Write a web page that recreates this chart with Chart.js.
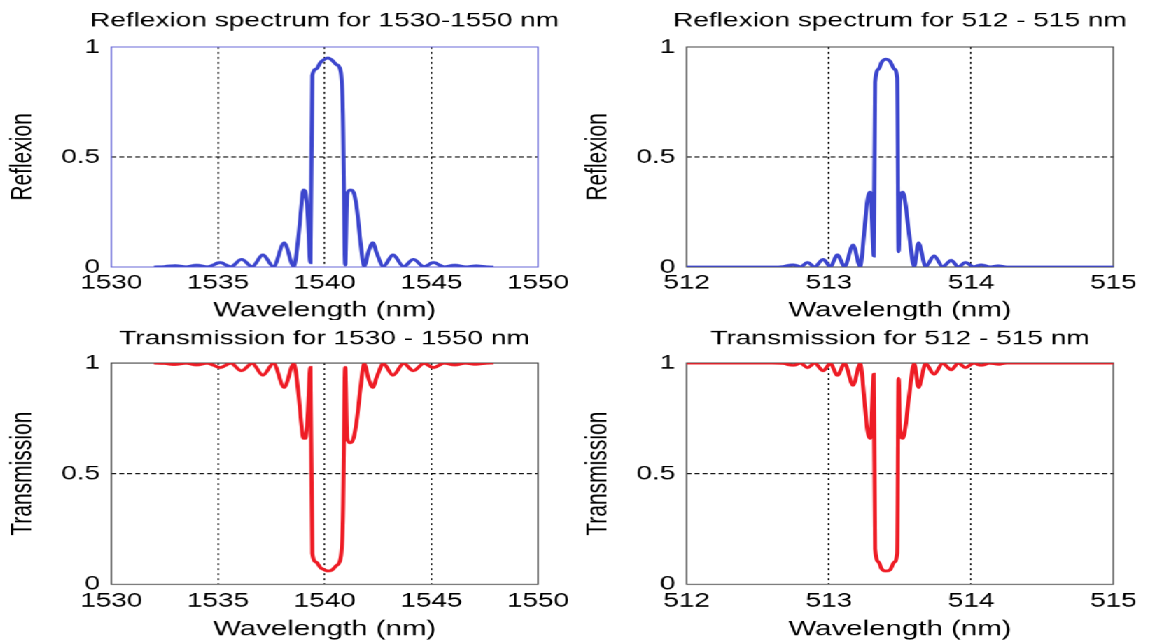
<!DOCTYPE html>
<html>
<head>
<meta charset="utf-8">
<script src="https://cdn.jsdelivr.net/npm/chart.js@4.4.0/dist/chart.umd.min.js"></script>
<style>
  html, body { margin: 0; padding: 0; background: #fff; overflow: hidden; }
  /* the original figure is stretched sideways, so draw narrow and widen it */
  #stage { position: absolute; left: 0; top: 0; width: 820.7px; height: 641px; transform: scaleX(1.4); transform-origin: 0 0; }
  /* cells are wide enough that a full-width title sits centred over the plot */
  .cell { position: absolute; width: 462.8px; }
</style>
</head>
<body>
<div id="stage">
  <div class="cell" style="left:0;top:0;height:320px"><canvas id="refl-ir"></canvas></div>
  <div class="cell" style="left:411.4px;top:0;height:320px"><canvas id="refl-vis"></canvas></div>
  <div class="cell" style="left:0;top:320px;height:321px"><canvas id="trans-ir"></canvas></div>
  <div class="cell" style="left:411.4px;top:320px;height:321px"><canvas id="trans-vis"></canvas></div>
</div>
<script>
// 1530-1550 nm band
const irWavelength = [1532.0, 1532.5, 1533.0, 1533.5, 1534.0, 1534.5, 1535.1, 1535.6, 1536.1, 1536.6,
  1537.1, 1537.6, 1538.1, 1538.55, 1538.75, 1538.9, 1539.0, 1539.1, 1539.2, 1539.33,
  1539.42, 1539.6, 1539.8, 1540.0, 1540.15, 1540.35, 1540.55, 1540.75, 1540.85, 1540.96,
  1541.05, 1541.2, 1541.35, 1541.5, 1541.68, 1541.85, 1542.05, 1542.25, 1542.45, 1542.75,
  1543.2, 1543.7, 1544.15, 1544.65, 1545.1, 1545.6, 1546.1, 1546.6, 1547.1, 1547.6, 1547.9];
const irReflexion = [0, 0.002, 0.006, 0.001, 0.008, 0.001, 0.02, 0.001, 0.035, 0.002,
  0.055, 0.002, 0.11, 0.003, 0.12, 0.27, 0.35, 0.34, 0.24, 0.02,
  0.87, 0.90, 0.93, 0.945, 0.95, 0.94, 0.92, 0.89, 0.70, 0.01,
  0.33, 0.35, 0.34, 0.27, 0.11, 0.003, 0.07, 0.11, 0.06, 0.003,
  0.055, 0.002, 0.035, 0.002, 0.02, 0.001, 0.008, 0.001, 0.005, 0.001, 0];
const irTransmission = [1, 0.998, 0.994, 0.999, 0.992, 0.999, 0.98, 0.999, 0.965, 0.998,
  0.945, 0.998, 0.89, 0.997, 0.88, 0.73, 0.66, 0.66, 0.76, 0.98,
  0.14, 0.10, 0.075, 0.065, 0.06, 0.065, 0.085, 0.12, 0.29, 0.98,
  0.66, 0.64, 0.66, 0.74, 0.89, 0.997, 0.93, 0.89, 0.94, 0.997,
  0.945, 0.998, 0.965, 0.998, 0.98, 0.999, 0.992, 0.999, 0.995, 0.999, 1];

// 512-515 nm band
const visWavelength = [512, 512.6, 512.68, 512.75, 512.8, 512.85, 512.9, 512.96, 513.01, 513.06,
  513.11, 513.17, 513.22, 513.25, 513.27, 513.29, 513.30, 513.315, 513.325, 513.35,
  513.37, 513.40, 513.43, 513.46, 513.48, 513.49, 513.50, 513.52, 513.54, 513.56,
  513.60, 513.63, 513.68, 513.74, 513.80, 513.86, 513.91, 513.96, 514.02, 514.07,
  514.13, 514.19, 514.25, 515];
const visReflexion = [0, 0, 0.002, 0.01, 0.001, 0.02, 0.001, 0.035, 0.002, 0.055,
  0.002, 0.10, 0.003, 0.17, 0.30, 0.34, 0.27, 0.05, 0.84, 0.90,
  0.93, 0.945, 0.935, 0.90, 0.86, 0.07, 0.30, 0.34, 0.28, 0.17,
  0.003, 0.11, 0.003, 0.05, 0.002, 0.03, 0.001, 0.02, 0.001, 0.01,
  0.001, 0.005, 0, 0];
const visTransmission = [1, 1, 0.998, 0.99, 0.999, 0.98, 0.999, 0.965, 0.998, 0.945,
  0.998, 0.90, 0.997, 0.83, 0.70, 0.66, 0.73, 0.95, 0.16, 0.10,
  0.07, 0.06, 0.065, 0.10, 0.14, 0.93, 0.70, 0.66, 0.72, 0.83,
  0.997, 0.89, 0.997, 0.95, 0.998, 0.97, 0.999, 0.98, 0.999, 0.99,
  0.999, 0.995, 1, 1];

const irTicks = [1530, 1535, 1540, 1545, 1550];
const visTicks = [512, 513, 514, 515];
const yTicks = [0, 0.5, 1];

Chart.defaults.font.family = '"Liberation Sans", Arial, sans-serif';
Chart.defaults.color = '#000';

// box round the plot area, under the curve
const frame = {
  id: 'frame',
  beforeDatasetsDraw(chart, args, opts) {
    const { ctx, chartArea: a } = chart;
    ctx.save();
    ctx.strokeStyle = opts.color;
    ctx.lineWidth = 1;
    ctx.strokeRect(a.left, a.top, a.width, a.height);
    ctx.restore();
  }
};

function makeChart(id, cfg) {
  const xs = cfg.ticks;
  const lo = xs[0], hi = xs[xs.length - 1];
  const edge = (c, a, b) => (c.tick && (c.tick.value === a || c.tick.value === b)) ? 'rgba(0,0,0,0)' : '#000';
  return new Chart(document.getElementById(id), {
    type: 'line',
    data: {
      datasets: [{
        data: cfg.x.map((v, i) => ({ x: v, y: cfg.y[i] })),
        borderColor: cfg.color,
        borderWidth: 2.9,
        pointRadius: 0,
        cubicInterpolationMode: 'monotone',
        fill: false
      }]
    },
    options: {
      responsive: true,
      maintainAspectRatio: false,
      devicePixelRatio: 1.4,
      animation: false,
      layout: { padding: 0 },
      plugins: {
        legend: { display: false },
        tooltip: { enabled: false },
        title: {
          display: true,
          text: cfg.title,
          fullSize: true,
          font: { size: 20, weight: 'normal' },
          padding: cfg.titlePad
        },
        frame: { color: cfg.frameColor }
      },
      scales: {
        x: {
          type: 'linear',
          min: lo, max: hi,
          afterBuildTicks: s => { s.ticks = xs.map(v => ({ value: v })); },
          afterFit: s => { s.height = cfg.xHeight; },
          ticks: { callback: v => String(v), font: { size: 20 }, padding: cfg.xTickPad, maxRotation: 0, autoSkip: false },
          grid: { color: c => edge(c, lo, hi), drawTicks: false, lineWidth: 1 },
          border: { display: false, dash: [2, 3] },
          title: { display: true, text: 'Wavelength (nm)', font: { size: 21, lineHeight: 0.86 }, padding: { top: 0, bottom: cfg.xTitlePad } }
        },
        y: {
          type: 'linear',
          min: 0, max: 1,
          afterBuildTicks: s => { s.ticks = yTicks.map(v => ({ value: v })); },
          afterFit: s => { s.width = 79.3; },
          ticks: { callback: v => String(v), font: { size: 20 }, padding: 8 },
          grid: { color: c => edge(c, 0, 1), drawTicks: false, lineWidth: 1 },
          border: { display: false, dash: [3.5, 2.2] },
          title: { display: true, text: cfg.yTitle, font: { size: 21 }, padding: { top: 4, bottom: 0 } }
        },
        // empty right-hand margin so the plot keeps its width under a full-width title
        gap: {
          type: 'linear',
          position: 'right',
          min: 0, max: 1,
          afterFit: s => { s.width = 79.2; },
          ticks: { display: false },
          grid: { display: false, drawOnChartArea: false },
          border: { display: false }
        }
      }
    },
    plugins: [frame]
  });
}

makeChart('refl-ir', {
  x: irWavelength, y: irReflexion, ticks: irTicks, color: '#3c46cd', frameColor: '#6a6ad8',
  title: 'Reflexion spectrum for 1530-1550 nm', yTitle: 'Reflexion',
  titlePad: { top: 9, bottom: 14 }, xHeight: 53, xTickPad: 4, xTitlePad: 0
});
makeChart('refl-vis', {
  x: visWavelength, y: visReflexion, ticks: visTicks, color: '#3c46cd', frameColor: '#444',
  title: 'Reflexion spectrum for 512 - 515 nm', yTitle: 'Reflexion',
  titlePad: { top: 9, bottom: 14 }, xHeight: 53, xTickPad: 4, xTitlePad: 0
});
makeChart('trans-ir', {
  x: irWavelength, y: irTransmission, ticks: irTicks, color: '#ee1c25', frameColor: '#444',
  title: 'Transmission for 1530 - 1550 nm', yTitle: 'Transmission',
  titlePad: { top: 7, bottom: 12 }, xHeight: 57, xTickPad: 5, xTitlePad: 3
});
makeChart('trans-vis', {
  x: visWavelength, y: visTransmission, ticks: visTicks, color: '#ee1c25', frameColor: '#444',
  title: 'Transmission for 512 - 515 nm', yTitle: 'Transmission',
  titlePad: { top: 7, bottom: 12 }, xHeight: 57, xTickPad: 5, xTitlePad: 3
});
</script>
</body>
</html>
